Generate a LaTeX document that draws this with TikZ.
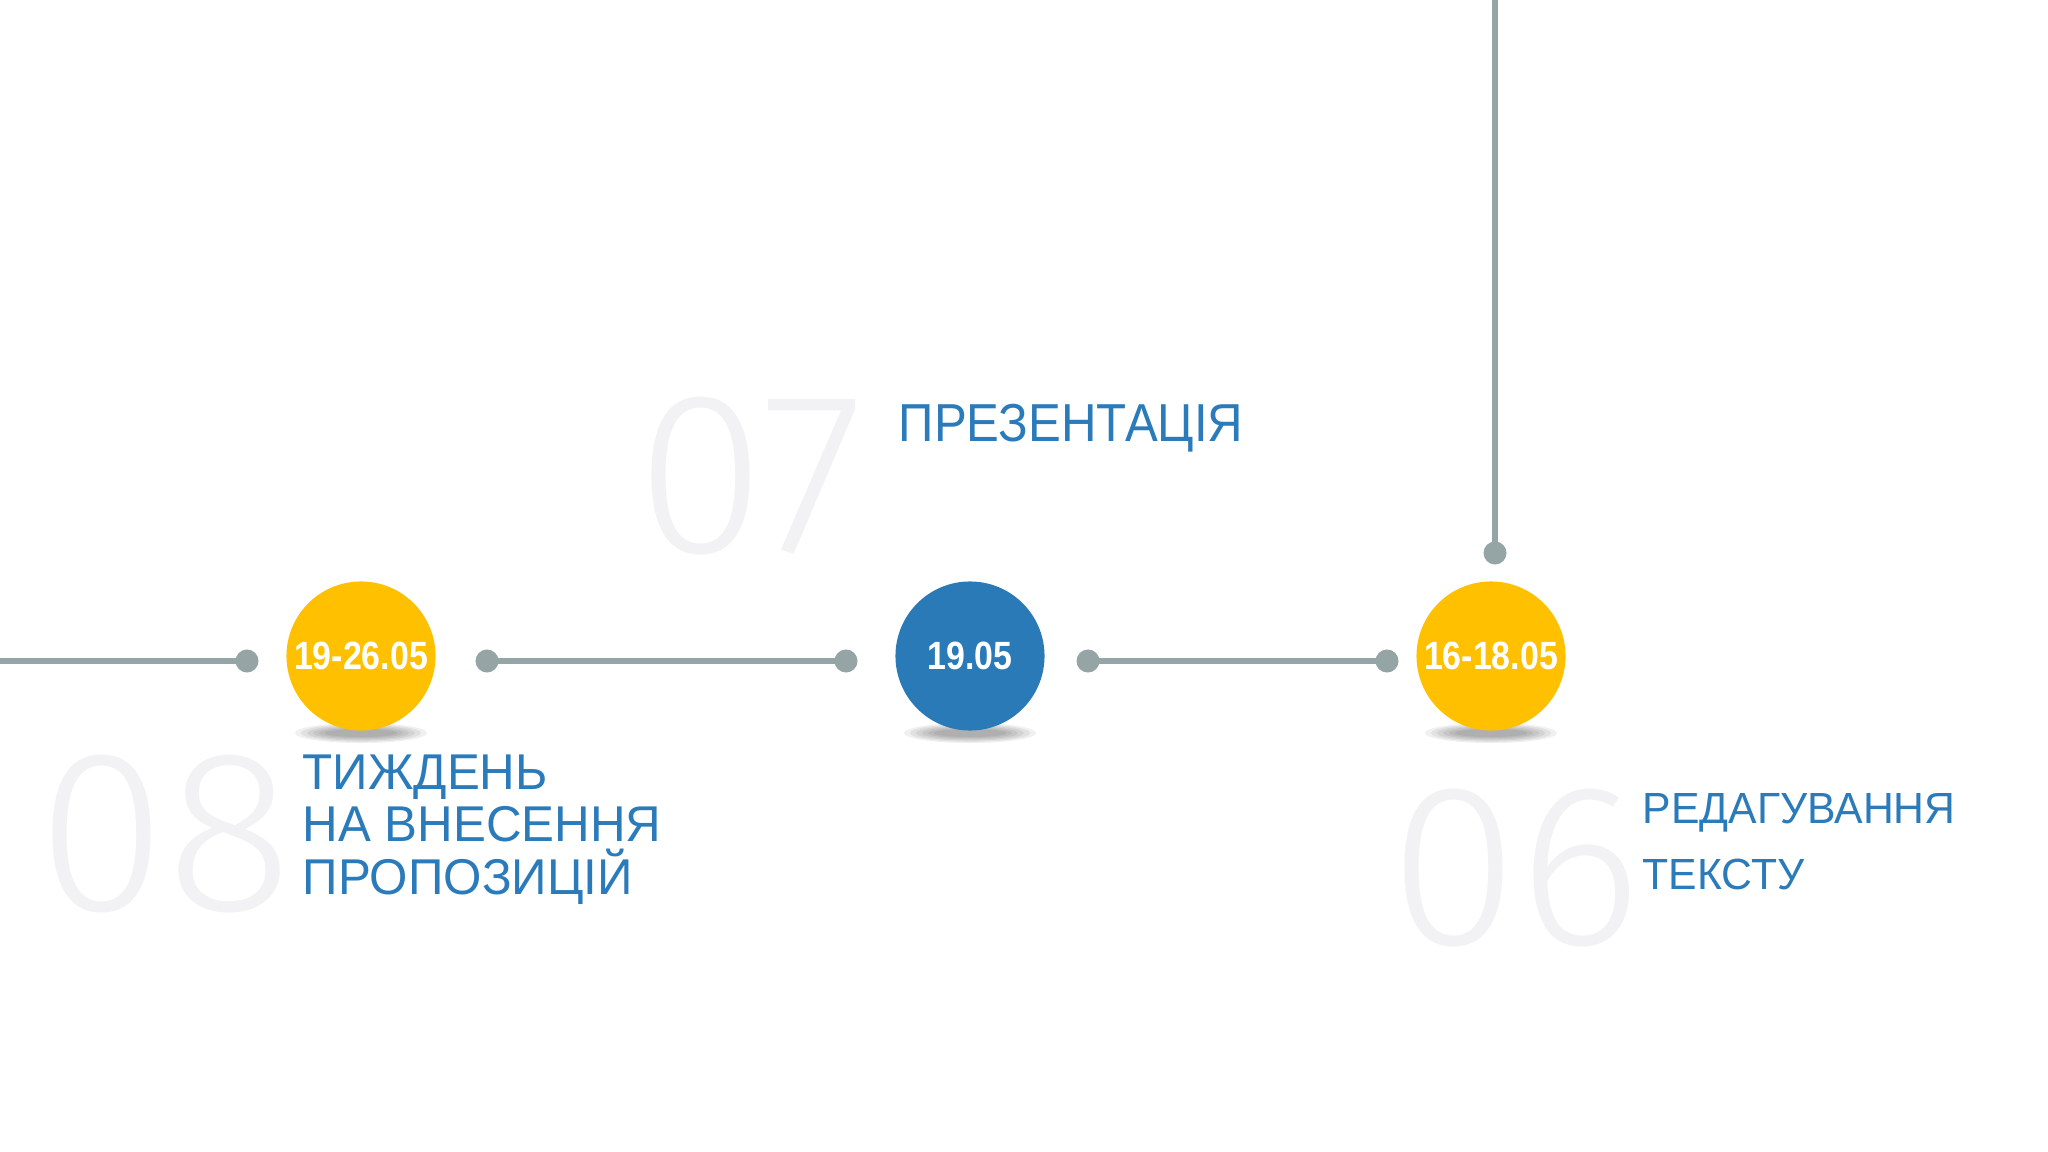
\documentclass[tikz,border=0pt]{standalone}
\usepackage{fontspec}
\setmainfont{Liberation Sans}
\newfontfamily\headfont[FakeStretch=0.98]{Liberation Sans}
\newfontfamily\narrowfont[FakeStretch=0.92]{Liberation Sans}
\newfontfamily\datefont[FakeStretch=0.86]{Liberation Sans}
\newfontfamily\numfont[FakeStretch=1.02]{Fira Sans Light}
\definecolor{gold}{HTML}{FFC000}
\definecolor{sea}{HTML}{2A7AB8}
\definecolor{railgrey}{HTML}{95A5A6}
\definecolor{ink}{HTML}{2B7BBA}
\definecolor{ghost}{HTML}{F2F2F4}
\tikzset{
    stop/.style={circle, inner sep=0pt, minimum size=1.49cm, text=white,
        font=\datefont\bfseries\fontsize{11.2}{12}\selectfont},
    knob/.style={circle, fill=railgrey, inner sep=0pt, minimum size=0.23cm},
    track/.style={draw=railgrey, line width=0.055cm},
    title/.style={anchor=base west, inner sep=0pt, text=ink, align=left},
    bignum/.style={anchor=base west, inner sep=0pt, text=ghost,
        font=\numfont\fontsize{65.4}{66}\selectfont}
}
\begin{document}
\begin{tikzpicture}[x=0.01cm,y=-0.01cm]
        \useasboundingbox (0,0) rectangle (2048,1152);
        \fill[white] (0,0) rectangle (2048,1152);

        \node[bignum] (n07) at (636,553) {07};
        \node[bignum] (n08) at (37,910) {08};
        \node[bignum] (n06) at (1389,944) {06};

        \foreach \cx in {361,970,1491}
            \foreach \k in {0,...,5}
                \fill[black, opacity=0.06] (\cx,733) ellipse [x radius={0.66cm-\k*0.06cm}, y radius={0.1cm-\k*0.012cm}];

        \coordinate (w) at (0,661);
        \coordinate (t) at (1495,0);
        \node[knob] (p1) at (247,661) {};
        \node[knob] (p2) at (487,661) {};
        \node[knob] (p3) at (846,661) {};
        \node[knob] (p4) at (1088,661) {};
        \node[knob] (p5) at (1387,661) {};
        \node[knob] (p6) at (1495,553) {};

        \draw[track] (w) -- (p1.center);
        \draw[track] (p2.center) -- (p3.center);
        \draw[track] (p4.center) -- (p5.center);
        \draw[track] (t) -- (p6.center);

        \node[stop, fill=gold] (d08) at (361,656) {19-26.05};
        \node[stop, fill=sea] (d07) at (970,656) {19.05};
        \node[stop, fill=gold] (d06) at (1491,656) {16-18.05};

        \node[title, font=\narrowfont\fontsize{15.2}{17}\selectfont] (h07) at (898,442) {ПРЕЗЕНТАЦІЯ};
        \node[title, font=\headfont\fontsize{14.3}{14.9}\selectfont] (h08) at (302,894) {ТИЖДЕНЬ\\НА ВНЕСЕННЯ\\ПРОПОЗИЦІЙ};
        \node[title, font=\headfont\fontsize{12.4}{18.5}\selectfont] (h06) at (1642,889) {РЕДАГУВАННЯ\\ТЕКСТУ};
\end{tikzpicture}
\end{document}
